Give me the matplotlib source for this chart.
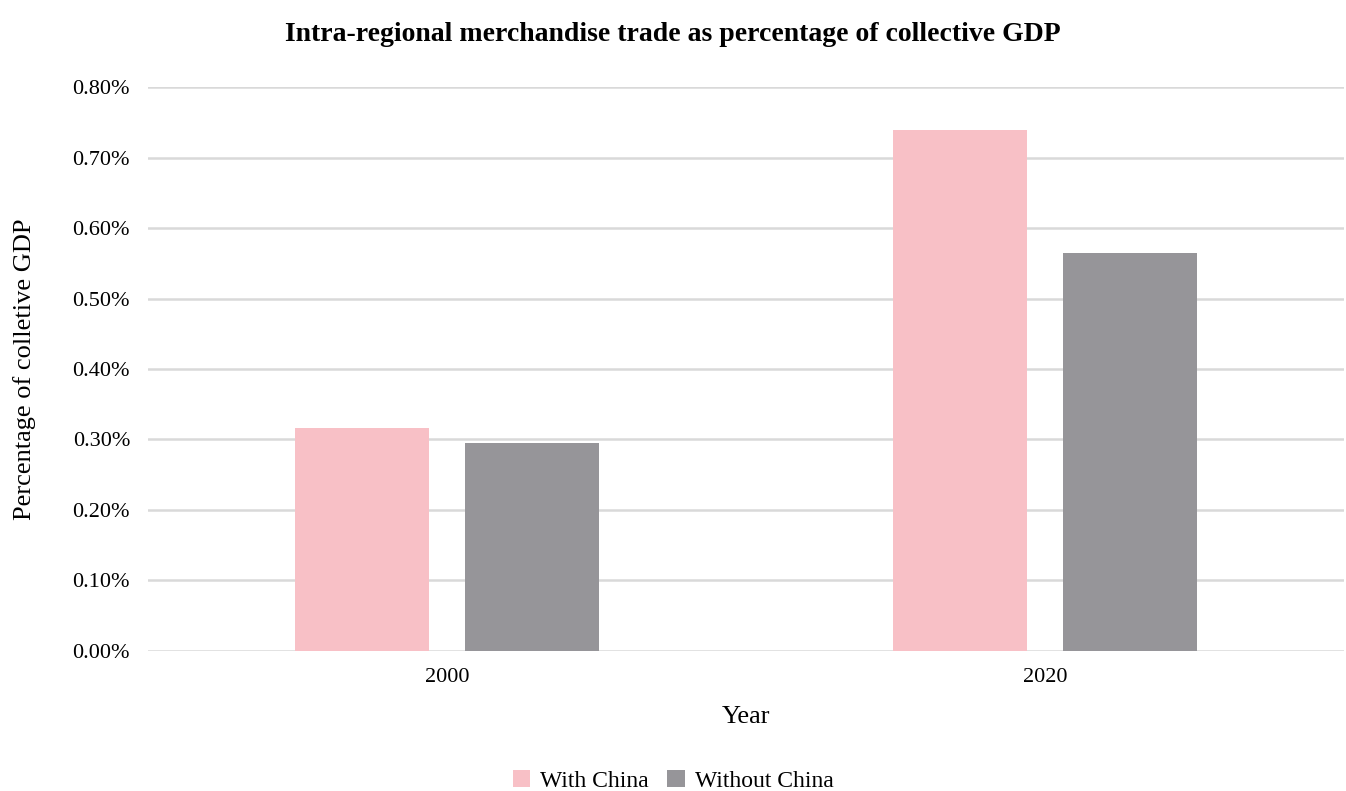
import numpy as np
import matplotlib
matplotlib.use("Agg")
import matplotlib.pyplot as plt
from matplotlib.ticker import FuncFormatter, MultipleLocator

# Data (percent of collective GDP)
years = ["2000", "2020"]
with_china = [0.316, 0.739]
without_china = [0.295, 0.564]
series_names = ["With China", "Without China"]
colors = ["#F8C0C6", "#969599"]

plt.rcParams["font.family"] = ["Liberation Serif", "DejaVu Serif"]

fig = plt.figure(figsize=(13.46, 7.91), dpi=100)
ax = fig.add_axes([0.110, 0.177, 0.8885, 0.713])

x = np.arange(len(years))
width = 0.224
offset = 0.142
ax.bar(x - offset, with_china, width, color=colors[0], label=series_names[0], zorder=3)
ax.bar(x + offset, without_china, width, color=colors[1], label=series_names[1], zorder=3)

ax.set_xlim(-0.5, 1.5)
ax.set_ylim(0, 0.8)
ax.yaxis.set_major_locator(MultipleLocator(0.1))
ax.yaxis.set_major_formatter(FuncFormatter(lambda v, p: f"{v:.2f}%"))
ax.set_xticks(x)
ax.set_xticklabels(years)
ax.grid(axis="y", color="#D9D9D9", linewidth=1.8, zorder=0)
for s in ax.spines.values():
    s.set_visible(False)
ax.tick_params(axis="y", length=0, labelsize=16, pad=13)
ax.tick_params(axis="x", length=0, labelsize=16, pad=12)

ax.set_ylabel("Percentage of colletive GDP", fontsize=19, labelpad=26)
ax.set_xlabel("Year", fontsize=19, labelpad=14)
fig.suptitle("Intra-regional merchandise trade as percentage of collective GDP",
             fontsize=20, fontweight="bold", x=0.5, y=0.972)

fig.legend(loc="lower center", bbox_to_anchor=(0.5, -0.028), ncol=2, frameon=False,
           fontsize=17, handlelength=0.75, handleheight=0.75, handletextpad=0.4,
           columnspacing=0.8)

fig.savefig("out.png", dpi=100)
